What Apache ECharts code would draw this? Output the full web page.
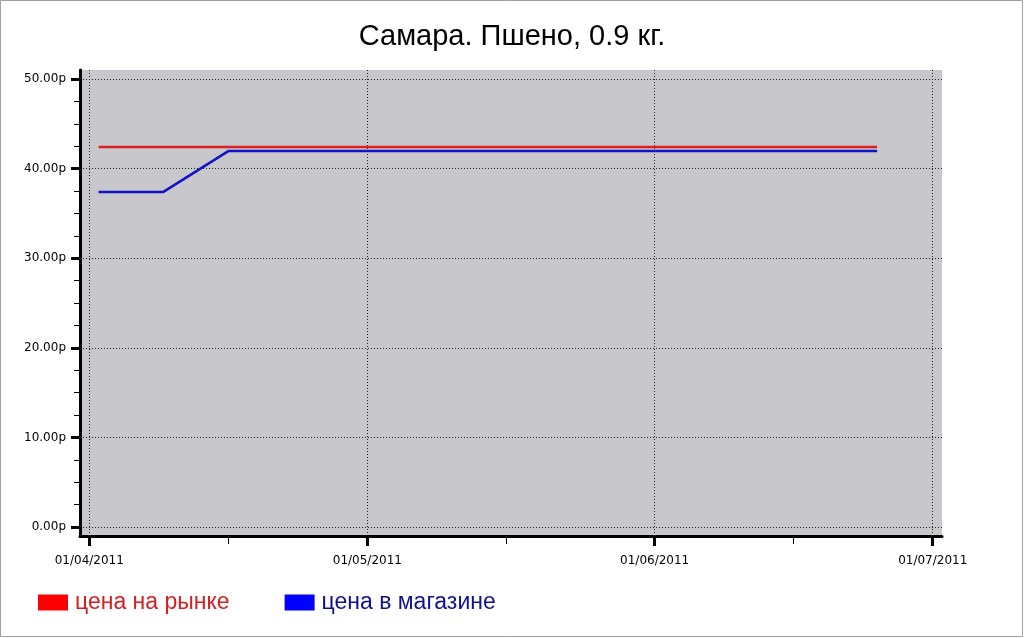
<!DOCTYPE html>
<html>
<head>
<meta charset="utf-8">
<script src="https://cdn.jsdelivr.net/npm/echarts@6/dist/echarts.min.js"></script>
<style>
html,body{margin:0;padding:0;background:#fff;}
#c{width:1024px;height:638px;}
</style>
</head>
<body>
<div id="c"></div>
<script>
var titleText = 'Самара. Пшено, 0.9 кг.';
var dates = ['2011-04-02','2011-04-09','2011-04-16','2011-04-23','2011-04-30','2011-05-07','2011-05-14','2011-05-21','2011-05-28','2011-06-04','2011-06-11','2011-06-18','2011-06-25'];
var marketPrice = [42.4,42.4,42.4,42.4,42.4,42.4,42.4,42.4,42.4,42.4,42.4,42.4,42.4];
var storePrice = [37.4,37.4,41.95,41.95,41.95,41.95,41.95,41.95,41.95,41.95,41.95,41.95,41.95];
var seriesNames = ['цена на рынке','цена в магазине'];
var xMajorTicks = ['2011-04-01','2011-05-01','2011-06-01','2011-07-01'];
var xMinorTicks = ['2011-04-16','2011-05-16','2011-06-16'];
var yMajorTicks = [0,10,20,30,40,50];
var yMinorTicks = [2.5,5,7.5,12.5,15,17.5,22.5,25,27.5,32.5,35,37.5,42.5,45,47.5];

function ts(s){ var p=s.split('-'); return Date.UTC(+p[0], +p[1]-1, +p[2]); }
function pad(n){ return (n<10?'0':'')+n; }

var xMin = ts('2011-03-31'), xMax = ts('2011-07-02');
var majorX = xMajorTicks.map(ts), minorX = xMinorTicks.map(ts);

var chart = echarts.init(document.getElementById('c'), null, {renderer:'canvas'});
var font = 'DejaVu Sans';
chart.setOption({
  animation:false,
  backgroundColor:'#ffffff',
  title:{text:titleText,left:'center',top:17,textStyle:{fontFamily:'Liberation Sans',fontSize:29,fontWeight:'normal',color:'#000'}},
  legend:{
    left:33, top:586, icon:'rect', itemWidth:30, itemHeight:16, itemGap:55,
    textStyle:{fontFamily:'Liberation Sans',fontSize:23,padding:[0,0,0,2]},
    data:[
      {name:seriesNames[0], itemStyle:{color:'#ff0000'}, textStyle:{color:'#d42020'}},
      {name:seriesNames[1], itemStyle:{color:'#0000ff'}, textStyle:{color:'#10108f'}}
    ]
  },
  grid:{left:80,right:82,top:70,bottom:102,show:true,backgroundColor:'#c8c7cc',borderWidth:0,containLabel:false},
  xAxis:[{
    type:'value', min:xMin, max:xMax,
    axisLine:{show:true,onZero:false,lineStyle:{color:'#000',width:3}},
    axisTick:{show:true,length:10,lineStyle:{color:'#000',width:3},customValues:majorX},
    axisLabel:{customValues:majorX,margin:19,fontFamily:font,fontSize:12,color:'#000',
      formatter:function(v){var d=new Date(v);return pad(d.getUTCDate())+'/'+pad(d.getUTCMonth()+1)+'/'+d.getUTCFullYear();}},
    splitLine:{show:true,lineStyle:{color:'#222',width:1,type:[1,2]}}
  },{
    type:'value', min:xMin, max:xMax, position:'bottom',
    axisLine:{show:false,onZero:false},
    axisTick:{show:true,length:8,lineStyle:{color:'#000',width:1},customValues:minorX},
    axisLabel:{show:false},
    splitLine:{show:false}
  }],
  yAxis:[{
    type:'value', min:-1, max:51,
    axisLine:{show:true,onZero:false,lineStyle:{color:'#000',width:3}},
    axisTick:{show:true,length:9,lineStyle:{color:'#000',width:3},customValues:yMajorTicks},
    axisLabel:{customValues:yMajorTicks,margin:14,fontFamily:font,fontSize:12,color:'#000',
      formatter:function(v){return v.toFixed(2)+'р';}},
    splitLine:{show:true,lineStyle:{color:'#222',width:1,type:[1,2]}}
  },{
    type:'value', min:-1, max:51, position:'left',
    axisLine:{show:false,onZero:false},
    axisTick:{show:true,length:6,lineStyle:{color:'#000',width:1},customValues:yMinorTicks},
    axisLabel:{show:false},
    splitLine:{show:false}
  }],
  series:[
    {name:seriesNames[0],type:'line',showSymbol:false,itemStyle:{color:'#ff0000'},lineStyle:{color:'#e02020',width:2.5},
     data:dates.map(function(d,i){return [ts(d),marketPrice[i]];})},
    {name:seriesNames[1],type:'line',showSymbol:false,itemStyle:{color:'#0000ff'},lineStyle:{color:'#1212c8',width:2.5},
     data:dates.map(function(d,i){return [ts(d),storePrice[i]];})}
  ],
  graphic:[{type:'rect',shape:{x:0.5,y:0.5,width:1022,height:636},style:{fill:null,stroke:'#a0a0a0',lineWidth:1},silent:true}]
});
</script>
</body>
</html>
